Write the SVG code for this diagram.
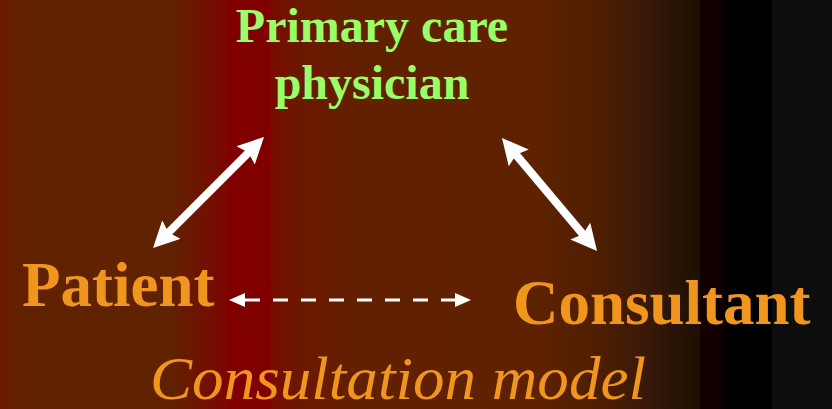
<svg xmlns="http://www.w3.org/2000/svg" width="832" height="409" viewBox="0 0 832 409">
  <defs>
    <linearGradient id="bg" gradientUnits="userSpaceOnUse" x1="0" y1="0" x2="832" y2="0">
      <stop offset="0" stop-color="#6e1a00"/>
      <stop offset="0.018" stop-color="#642000"/>
      <stop offset="0.05" stop-color="#602200"/>
      <stop offset="0.204" stop-color="#602200"/>
      <stop offset="0.274" stop-color="#7c0600"/>
      <stop offset="0.274" stop-color="#800000"/>
      <stop offset="0.326" stop-color="#800000"/>
      <stop offset="0.326" stop-color="#780c00"/>
      <stop offset="0.361" stop-color="#6c1800"/>
      <stop offset="0.433" stop-color="#622000"/>
      <stop offset="0.649" stop-color="#5e2200"/>
      <stop offset="0.721" stop-color="#4e1e00"/>
      <stop offset="0.781" stop-color="#38180a"/>
      <stop offset="0.841" stop-color="#1c1000"/>
      <stop offset="0.841" stop-color="#140000"/>
      <stop offset="0.871" stop-color="#0e0000"/>
      <stop offset="0.871" stop-color="#000000"/>
      <stop offset="0.928" stop-color="#000000"/>
      <stop offset="0.928" stop-color="#0e0e0e"/>
      <stop offset="1" stop-color="#0e0e0e"/>
    </linearGradient>
    <marker id="bigHead" viewBox="0 0 26 26" markerUnits="userSpaceOnUse" markerWidth="26" markerHeight="26" refX="14" refY="13" orient="auto-start-reverse">
      <path d="M0,0 L26,13 L0,26 L4,13 z" fill="#ffffff"/>
    </marker>
    <marker id="smallHead" viewBox="0 0 16 14" markerUnits="userSpaceOnUse" markerWidth="16" markerHeight="14" refX="0" refY="7" orient="auto-start-reverse">
      <path d="M0,0 L16,7 L0,14 z" fill="#ffffff"/>
    </marker>
  </defs>
  <style>
    .lbl { font-family: "Liberation Serif", "Times New Roman", serif; font-weight: bold; }
    .green { fill: #99ff66; font-size: 48px; }
    .orange { fill: #f0961e; font-size: 63px; }
    .title { font-family: "Liberation Serif", "Times New Roman", serif; font-style: italic; fill: #f0961e; font-size: 61px; }
    .solid { stroke: #ffffff; stroke-width: 8; fill: none; marker-start: url(#bigHead); marker-end: url(#bigHead); }
    .dashed { stroke: #ffffff; stroke-width: 3; fill: none; stroke-dasharray: 15 13; marker-start: url(#smallHead); marker-end: url(#smallHead); }
  </style>
  <rect x="0" y="0" width="832" height="409" fill="url(#bg)"/>

  <g id="connectors">
    <line class="solid" x1="161.5" y1="239.5" x2="255.5" y2="145.5"/>
    <line class="solid" x1="509.7" y1="147.2" x2="589.3" y2="241.8"/>
    <line class="dashed" x1="245" y1="300" x2="455" y2="300"/>
  </g>

  <g id="node-pcp">
    <text class="lbl green" x="372" y="42" text-anchor="middle">Primary care</text>
    <text class="lbl green" x="372" y="99" text-anchor="middle">physician</text>
  </g>
  <g id="node-patient">
    <text class="lbl orange" x="22" y="306">Patient</text>
  </g>
  <g id="node-consultant">
    <text class="lbl orange" x="513" y="324">Consultant</text>
  </g>
  <g id="title">
    <text class="title" x="150" y="399" textLength="496" lengthAdjust="spacingAndGlyphs">Consultation model</text>
  </g>
</svg>
